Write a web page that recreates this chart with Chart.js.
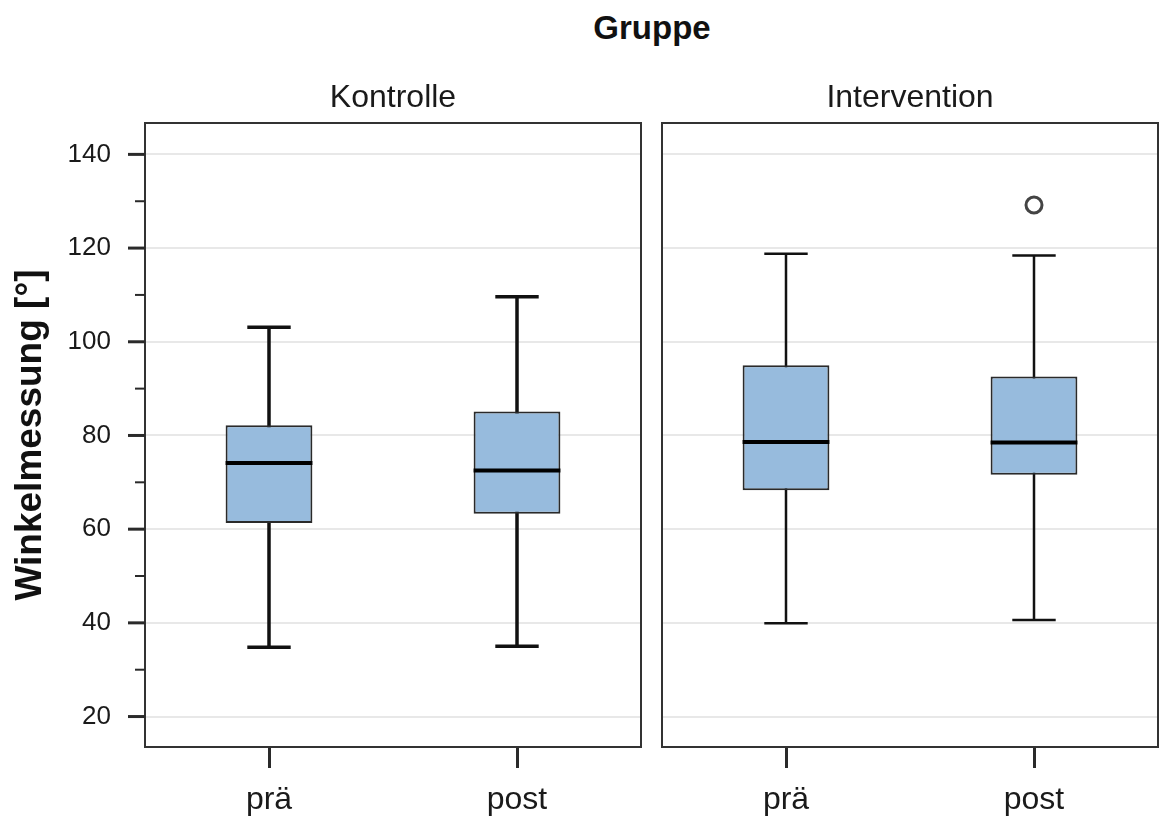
<!DOCTYPE html>
<html>
<head>
<meta charset="utf-8">
<script src="https://cdn.jsdelivr.net/npm/chart.js@4/dist/chart.umd.min.js"></script>
<style>
  body { margin: 0; background: #fff; overflow: hidden; }
  #wrap { position: relative; width: 1159px; height: 820px; font-family: "Liberation Sans", Arial, sans-serif; }
  #gruppe { position: absolute; left: 552px; top: 11px; width: 200px; text-align: center;
            font-size: 33px; line-height: 33px; font-weight: bold; color: #111; }
  #left { position: absolute; left: 0; top: 0; }
  #right { position: absolute; left: 652px; top: 0; }
</style>
</head>
<body>
<div id="wrap">
  <div id="gruppe">Gruppe</div>
  <canvas id="left" width="652" height="820"></canvas>
  <canvas id="right" width="507" height="820"></canvas>
</div>
<script>
const phases = ["prä", "post"];
const groupNames = ["Kontrolle", "Intervention"];
const yTickValues = [20, 40, 60, 80, 100, 120, 140];

// Kontrolle
const kontrolleMin = [34.8, 35.0];
const kontrolleQ1 = [61.3, 63.3];
const kontrolleMedian = [74.1, 72.5];
const kontrolleQ3 = [82.2, 85.1];
const kontrolleMax = [103.1, 109.6];
const kontrolleOutliers = [null, null];

// Intervention
const interventionMin = [39.9, 40.6];
const interventionQ1 = [68.3, 71.6];
const interventionMedian = [78.6, 78.5];
const interventionQ3 = [95.0, 92.6];
const interventionMax = [118.8, 118.4];
const interventionOutliers = [null, 129.2];

const FONT = '"Liberation Sans", Arial, sans-serif';
const boxFill = "#97bbdd";
const darkLine = "#2a2a2a";

// whiskers, caps and medians drawn from the y scale
const boxParts = {
  id: "boxParts",
  beforeDatasetsDraw(chart, args, opts) {
    const { ctx, scales: { y } } = chart;
    const bars = chart.getDatasetMeta(0).data;
    ctx.save();
    ctx.strokeStyle = "#111";
    ctx.lineWidth = opts.whiskerWidth;
    bars.forEach((bar, i) => {
      const half = bar.width / 4;
      const yMin = y.getPixelForValue(opts.min[i]);
      const yMax = y.getPixelForValue(opts.max[i]);
      ctx.beginPath();
      ctx.moveTo(bar.x, yMax);
      ctx.lineTo(bar.x, yMin);
      ctx.moveTo(bar.x - half, yMax);
      ctx.lineTo(bar.x + half, yMax);
      ctx.moveTo(bar.x - half, yMin);
      ctx.lineTo(bar.x + half, yMin);
      ctx.stroke();
    });
    ctx.restore();
  },
  afterDatasetsDraw(chart, args, opts) {
    const { ctx, scales: { y } } = chart;
    const bars = chart.getDatasetMeta(0).data;
    ctx.save();
    ctx.strokeStyle = "#000";
    ctx.lineWidth = 4;
    bars.forEach((bar, i) => {
      const ym = y.getPixelForValue(opts.median[i]);
      ctx.beginPath();
      ctx.moveTo(bar.x - bar.width / 2, ym);
      ctx.lineTo(bar.x + bar.width / 2, ym);
      ctx.stroke();
    });
    ctx.restore();
  }
};

// panel frame, panel title, y tick marks
const panelFrame = {
  id: "panelFrame",
  afterDraw(chart, args, opts) {
    const { ctx, chartArea: a, scales: { y } } = chart;
    ctx.save();
    ctx.strokeStyle = "#333";
    ctx.lineWidth = 2;
    ctx.strokeRect(a.left, a.top, a.right - a.left, a.bottom - a.top);

    ctx.fillStyle = "#1a1a1a";
    ctx.font = "32px " + FONT;
    ctx.textAlign = "center";
    ctx.textBaseline = "alphabetic";
    ctx.fillText(opts.title, (a.left + a.right) / 2, a.top - 16);

    if (opts.yTicks) {
      ctx.strokeStyle = "#2a2a2a";
      yTickValues.forEach((v, i) => {
        const py = y.getPixelForValue(v);
        ctx.lineWidth = 3;
        ctx.beginPath();
        ctx.moveTo(a.left - 17, py);
        ctx.lineTo(a.left, py);
        ctx.stroke();
        if (i < yTickValues.length - 1) {
          const pm = y.getPixelForValue((v + yTickValues[i + 1]) / 2);
          ctx.lineWidth = 2;
          ctx.beginPath();
          ctx.moveTo(a.left - 10, pm);
          ctx.lineTo(a.left, pm);
          ctx.stroke();
        }
      });
    }
    ctx.restore();
  }
};

function makePanel(canvasId, title, q1, q3, med, mn, mx, outliers, showY, padding, whiskerWidth) {
  return new Chart(document.getElementById(canvasId), {
    type: "bar",
    data: {
      labels: phases,
      datasets: [{
        data: q1.map((v, i) => [v, q3[i]]),
        backgroundColor: boxFill,
        borderColor: darkLine,
        borderWidth: 2,
        borderSkipped: false,
        barPercentage: 0.35,
        categoryPercentage: 1
      }, {
        type: "line",
        data: outliers,
        showLine: false,
        pointRadius: 8,
        pointBorderWidth: 3,
        pointBorderColor: "#444",
        pointBackgroundColor: "#fff"
      }]
    },
    options: {
      responsive: false,
      animation: false,
      events: [],
      layout: { padding: padding, autoPadding: false },
      plugins: {
        legend: { display: false },
        tooltip: { enabled: false },
        boxParts: { min: mn, max: mx, median: med, whiskerWidth: whiskerWidth },
        panelFrame: { title: title, yTicks: showY }
      },
      scales: {
        x: {
          offset: true,
          afterFit: (s) => { s.height = 73; s.paddingLeft = 0; s.paddingRight = 0; },
          grid: { offset: false, drawOnChartArea: false, drawTicks: true, tickLength: 21, tickWidth: 3, tickColor: "#2a2a2a" },
          border: { display: false },
          ticks: { color: "#1a1a1a", font: { family: FONT, size: 32 }, padding: 13 }
        },
        y: {
          min: 13.5,
          max: 146.7,
          afterBuildTicks: (s) => { s.ticks = yTickValues.map(v => ({ value: v })); },
          afterFit: (s) => { s.width = showY ? 145 : 0; },
          grid: { color: "#e8e8e8", lineWidth: 2, drawTicks: false },
          border: { display: false },
          ticks: { display: showY, color: "#1a1a1a", font: { family: FONT, size: 26 }, padding: 34 },
          title: {
            display: showY,
            text: "Winkelmessung [°]",
            color: "#111",
            font: { family: FONT, size: 37, weight: "bold" },
            padding: { top: 9, bottom: 0 }
          }
        }
      }
    },
    plugins: [boxParts, panelFrame]
  });
}

makePanel("left", groupNames[0], kontrolleQ1, kontrolleQ3, kontrolleMedian, kontrolleMin, kontrolleMax,
  kontrolleOutliers, true, { left: 0, right: 11, top: 123, bottom: 0 }, 3.5);
makePanel("right", groupNames[1], interventionQ1, interventionQ3, interventionMedian, interventionMin, interventionMax,
  interventionOutliers, false, { left: 10, right: 1, top: 123, bottom: 0 }, 2.5);
</script>
</body>
</html>
